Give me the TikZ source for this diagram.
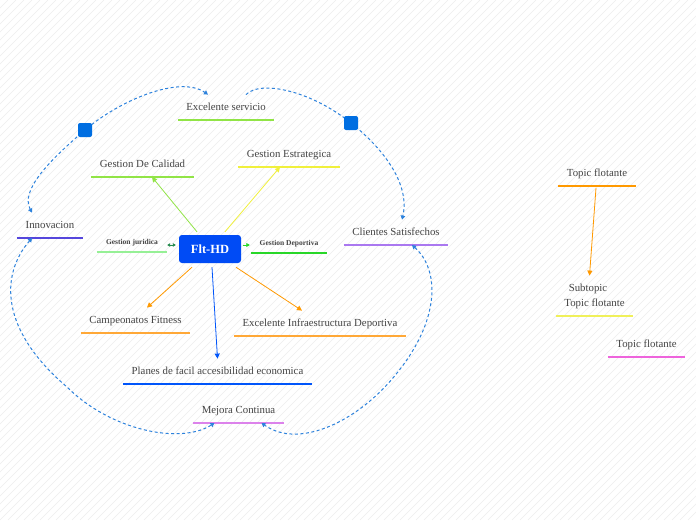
\documentclass[tikz,border=0pt]{standalone}
\usepackage{fontspec}
\setmainfont{Liberation Serif}
\usetikzlibrary{arrows.meta,calc}
\definecolor{txt}{RGB}{68,68,68}
\definecolor{hubblue}{RGB}{0,75,245}
\definecolor{handleblue}{RGB}{0,110,225}
\definecolor{relblue}{RGB}{45,130,220}
\definecolor{lgreen}{RGB}{145,228,70}
\definecolor{paleg}{RGB}{150,240,150}
\definecolor{dgreen}{RGB}{40,140,80}
\definecolor{bgreen}{RGB}{40,215,40}
\definecolor{yel}{RGB}{240,240,60}
\definecolor{indigo}{RGB}{85,70,220}
\definecolor{lilac}{RGB}{170,120,240}
\definecolor{orng}{RGB}{255,168,55}
\definecolor{orng2}{RGB}{255,153,0}
\definecolor{blu}{RGB}{0,85,250}
\definecolor{violet}{RGB}{220,130,235}
\definecolor{pink}{RGB}{238,100,220}
\definecolor{yel2}{RGB}{240,240,90}
\tikzset{reltip/.tip={Triangle[length=4pt,width=4.5pt]}}
\begin{document}
\begin{tikzpicture}[x=1pt,y=-1pt,
  topic/.style={font=\fontsize{10.8}{15}\selectfont, text=txt, inner xsep=0pt, inner ysep=9pt,
    text height=7pt, text depth=0pt, anchor=south},
  smalltopic/.style={font=\bfseries\fontsize{7.5}{9}\selectfont, text=txt, inner xsep=0pt,
    inner ysep=7.5pt, text height=5.5pt, text depth=0pt, anchor=south},
  ul/.style={append after command={(\tikzlastnode.south west) edge[draw=#1, line width=1.3pt, -] (\tikzlastnode.south east)}},
  hubnode/.style={fill=hubblue, rounded corners=3pt, minimum width=62pt, minimum height=28pt,
    text=white, font=\bfseries\fontsize{12.5}{14}\selectfont, inner sep=0pt},
  handle/.style={fill=handleblue, rounded corners=2pt, minimum size=14pt, inner sep=0pt},
  conn/.style={line width=0.8pt, -{Triangle[length=5pt,width=5pt]}},
  rel/.style={draw=relblue, line width=1pt, dash pattern=on 3pt off 2.5pt},
  hatch/.style={draw=gray!14, line width=0.4pt}
]
\fill[white] (0,0) rectangle (696,520);
\begin{scope}
  \clip (0,0) rectangle (696,520);
  \foreach \i in {-520,-512,...,696} \draw[hatch] (\i,520) -- ++(520,-520);
\end{scope}
\useasboundingbox (0,0) rectangle (696,520);

% central node
\node[hubnode] (hub) at (210,249) {Flt-HD};

% topics
\node[topic, ul=lgreen, minimum width=96pt] (servicio) at (226,120) {Excelente servicio};
\node[topic, ul=lgreen, minimum width=103pt] (calidad) at (142.5,177) {Gestion De Calidad};
\node[topic, ul=yel, minimum width=102pt] (estrategica) at (289,167) {Gestion Estrategica};
\node[topic, ul=indigo, minimum width=66pt] (innovacion) at (50,238) {Innovacion};
\node[topic, ul=lilac, minimum width=104pt] (clientes) at (396,245) {Clientes Satisfechos};
\node[smalltopic, ul=paleg, minimum width=70pt] (juridica) at (132,252) {Gestion juridica};
\node[smalltopic, ul=bgreen, minimum width=76pt] (deportiva) at (289,253) {Gestion Deportiva};
\node[topic, ul=orng, minimum width=109pt] (campeonatos) at (135.5,333) {Campeonatos Fitness};
\node[topic, ul=orng, minimum width=172pt] (infra) at (320,336) {Excelente Infraestructura Deportiva};
\node[topic, ul=blu, minimum width=189pt] (planes) at (217.5,384) {Planes de facil accesibilidad economica};
\node[topic, ul=violet, minimum width=91pt] (mejora) at (238.5,423) {Mejora Continua};

% floating topics
\node[topic, ul=orng2, minimum width=78pt] (tf1) at (597,186) {Topic flotante};
\node[topic, ul=yel2, minimum width=77pt, align=center, text height=22pt] (sub) at (594.5,316) {Subtopic\kern 13pt\\Topic flotante};
\node[topic, ul=pink, minimum width=77pt] (tf3) at (646.5,357) {Topic flotante};

% connectors from the hub
\draw[conn, draw=lgreen, color=lgreen] ([xshift=-13pt,yshift=3pt]hub.north) -- ([xshift=9.5pt]calidad.south);
\draw[conn, draw=yel, color=yel] ([xshift=15pt,yshift=3pt]hub.north) -- ([xshift=-9pt]estrategica.south);
\draw[conn, draw=orng2, color=orng2] ([xshift=-18pt,yshift=-4pt]hub.south) -- ([xshift=11.5pt]campeonatos.north);
\draw[conn, draw=orng2, color=orng2] ([xshift=26pt,yshift=-4pt]hub.south) -- ([xshift=-18pt]infra.north);
\draw[conn, draw=blu, color=blu] ([xshift=2pt,yshift=-4pt]hub.south) -- (planes.north);
\draw[line width=0.8pt, dgreen, {Triangle[length=3pt,width=3.5pt]}-{Triangle[length=3pt,width=3.5pt]}]
  ($(juridica.east |- hub.west)+(0,-4)$) -- ($(hub.west)+(-3,-4)$);
\draw[line width=0.8pt, bgreen, -{Triangle[length=3.5pt,width=4pt]}]
  ($(hub.east)+(2,-4)$) -- ($(deportiva.west |- hub.east)+(-1,-4)$);
\draw[conn, draw=orng2, color=orng2] ([xshift=-1pt,yshift=-2pt]tf1.south) -- ([xshift=-5pt]sub.north);

% relationships
\coordinate (h1) at (85,130);
\coordinate (h2) at (351,123);
\draw[rel, reltip-reltip] ([xshift=-18pt]innovacion.north)
  .. controls (20,190) and (50,160) .. (h1)
  .. controls (120,100) and (180,75) .. ([xshift=-18pt]servicio.north);
\draw[rel, -reltip] ([xshift=20pt]servicio.north)
  .. controls (260,80) and (310,90) .. (h2)
  .. controls (385,150) and (410,185) .. ([xshift=6pt]clientes.north);
\draw[rel, reltip-reltip] ([xshift=-18pt]innovacion.south)
  .. controls (0,275) and (0,330) .. (67,387)
  .. controls (110,430) and (180,445) .. ([xshift=-24pt]mejora.south);
\draw[rel, reltip-reltip] ([xshift=16pt]clientes.south)
  .. controls (440,270) and (440,320) .. (397,373)
  .. controls (360,420) and (300,450) .. ([xshift=23pt]mejora.south);
\node[handle] (sq1) at (h1) {};
\node[handle] (sq2) at (h2) {};
\end{tikzpicture}
\end{document}
